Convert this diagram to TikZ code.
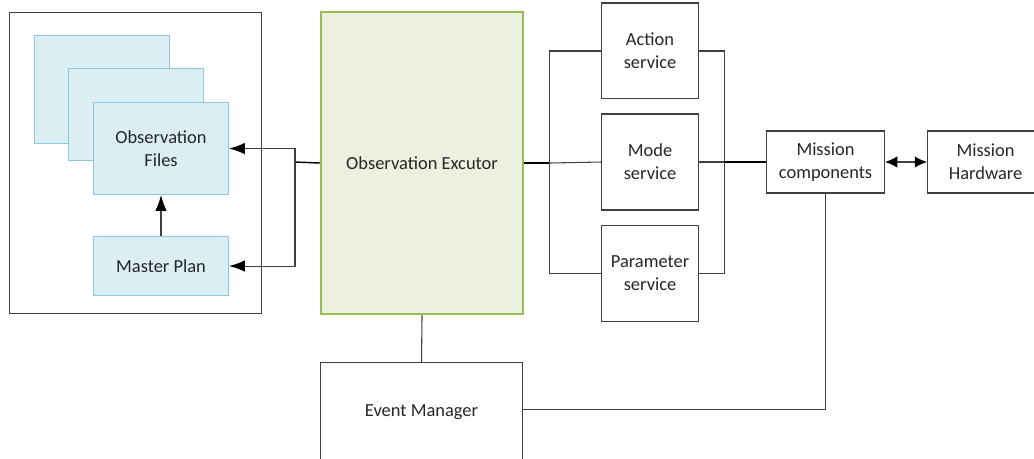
\documentclass[tikz,border=0pt]{standalone}
\usepackage{fontspec}
\setmainfont{Carlito}
\usepackage{tikz}
\usetikzlibrary{positioning}
\usetikzlibrary{arrows.meta}
\tikzset{>={Latex[width=6.5pt,length=9pt,color=black]}}
\definecolor{filefill}{HTML}{DAEEF3}
\definecolor{filedraw}{HTML}{8CC8D8}
\definecolor{execfill}{HTML}{EBF1DE}
\definecolor{execdraw}{HTML}{9BBB59}
\definecolor{linegray}{HTML}{404040}

\begin{document}
\begin{tikzpicture}[x=0.02cm, y=-0.02cm, font=\fontsize{10.5}{13}\selectfont, text=black!85, frame/.style={draw=linegray, line width=0.6pt, inner sep=0pt, align=center}, filecard/.style={draw=filedraw, fill=filefill, line width=0.6pt, inner sep=0pt, align=center, anchor=north west, minimum width=2.7cm, minimum height=1.84cm}, execbox/.style={draw=execdraw, fill=execfill, line width=1.2pt, inner sep=0pt, anchor=north west, minimum width=4.04cm, minimum height=6.04cm}, service/.style={frame, minimum width=1.94cm, minimum height=1.92cm}, wire/.style={draw=linegray, line width=0.6pt}, mainwire/.style={draw=black, line width=0.8pt}]

    \useasboundingbox (0,0) rectangle (1034,458);
    \clip (0,0) rectangle (1034,458);

    %Nodes
    \node[frame, anchor=north west, minimum width=5.04cm, minimum height=6.02cm](store) at (9,12){};
    \node[filecard, minimum height=2.16cm](card_back) at (34,35){};
    \node[filecard](card_mid) at (68,68){};
    \node[filecard](files) at (93,102){Observation\\Files};
    \node[filecard, minimum height=1.18cm](plan) at (93,236){Master Plan};

    \node[execbox](executor) at (320,11){Observation Excutor};
    \node[frame, anchor=north west, minimum width=4.04cm, minimum height=2cm](events) at (320,362){Event Manager};

    \node[service, anchor=west](mode) at (601,162){Mode\\service};
    \node[service](action)[above=0.28cm of mode]{Action\\service};
    \node[service](param)[below=0.28cm of mode]{Parameter\\service};

    \coordinate(fork) at (295,162);
    \coordinate[right=0.5cm of executor.east](bus_left);
    \coordinate[right=0.5cm of mode.east](bus_right);

    \node[frame, minimum width=2.36cm, minimum height=1.24cm](components)[right=0.84cm of bus_right]{Mission\\components};
    \node[frame, minimum width=2.32cm, minimum height=1.24cm](hardware)[right=0.84cm of components]{Mission\\Hardware};

    %Lines
    \draw[mainwire] (executor.west) -- (fork);
    \draw[wire, ->] (fork) |- (files.east);
    \draw[wire, ->] (fork) |- (plan.east);
    \draw[wire, ->] (plan) -- (files);
    \draw[mainwire] (executor.east) -- (bus_left);
    \draw[wire] (bus_left) |- (action.west);
    \draw[wire] (bus_left) -- (mode.west);
    \draw[wire] (bus_left) |- (param.west);
    \draw[wire] (action.east) -| (bus_right);
    \draw[wire] (mode.east) -- (bus_right);
    \draw[wire] (param.east) -| (bus_right);
    \draw[mainwire] (bus_right) -- (components.west);
    \draw[wire, <->, >={Latex[width=6.5pt,length=7pt,color=black]}] (components) -- (hardware);
    \draw[wire] (executor.south) -- (events.north);
    \draw[wire] (components.south) |- ([yshift=0.06cm]events.east);

\end{tikzpicture}
\end{document}
